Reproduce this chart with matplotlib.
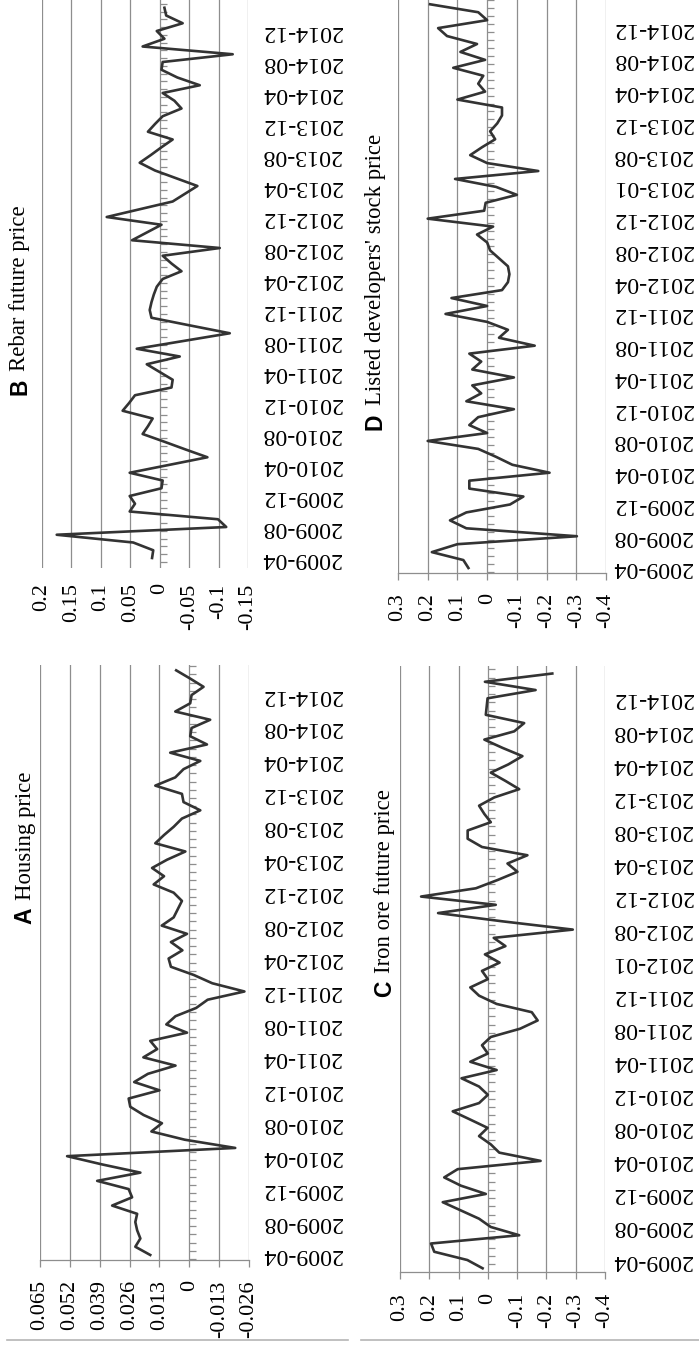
import numpy as np
import matplotlib.pyplot as plt
from matplotlib.lines import Line2D

plt.rcParams['font.family'] = ['Liberation Serif', 'DejaVu Serif']

W, H, DPI = 699, 1347, 100
GRID = '#8e8e8e'
LINE = '#333333'

# monthly series, first value = 2009-04 (C starts one month earlier)
housing = [0.0170, 0.0235, 0.0213, 0.0227, 0.0235, 0.0227, 0.0336, 0.0249, 0.0264, 0.0401,
           0.0213, 0.0380, 0.0532, -0.0200, 0.0020, 0.0165, 0.0119, 0.0199, 0.0257, 0.0264,
           0.0130, 0.0240, 0.0180, 0.0060, 0.0200, 0.0140, 0.0170, 0.0010, 0.0100, 0.0060,
           -0.0030, -0.0080, -0.0240, -0.0100, -0.0020, 0.0080, 0.0090, 0.0030, 0.0080, 0.0010,
           0.0120, 0.0068, 0.0050, 0.0032, 0.0068, 0.0155, 0.0110, 0.0162, 0.0097, 0.0017,
           0.0148, 0.0110, 0.0068, 0.0032, -0.0048, 0.0025, 0.0032, 0.0148, 0.0061, 0.0025,
           -0.0048, 0.0083, -0.0077, -0.0004, -0.0010, -0.0091, 0.0061, -0.0004, -0.0010, -0.0062,
           -0.0004, 0.0057]

rebar = [0.013, 0.011, 0.045, 0.175, -0.113, -0.099, 0.051, 0.042, 0.051, -0.003,
         -0.005, 0.051, -0.015, -0.081, -0.044, -0.008, 0.029, 0.020, 0.012, 0.063,
         0.052, 0.042, -0.020, -0.022, 0.000, 0.022, -0.034, 0.039, -0.040, -0.119,
         -0.052, 0.014, 0.017, 0.014, 0.010, 0.005, -0.005, -0.037, -0.020, -0.005,
         -0.102, 0.047, 0.022, -0.003, 0.090, 0.034, -0.022, -0.043, -0.064, -0.028,
         0.008, 0.034, 0.015, -0.003, -0.022, 0.020, 0.008, -0.005, -0.037, -0.025,
         -0.005, -0.068, -0.030, -0.003, -0.005, -0.124, 0.029, -0.008, 0.005, -0.039,
         -0.011, -0.008]

iron_ore = [0.018, 0.070, 0.183, 0.194, -0.107, -0.010, 0.030, 0.092, 0.154, 0.007,
            0.092, 0.149, 0.103, -0.180, -0.039, -0.010, 0.030, 0.001, 0.060, 0.120,
            0.030, 0.000, 0.030, 0.090, -0.030, 0.060, 0.000, 0.020, -0.010, -0.110,
            -0.170, -0.150, -0.030, 0.030, 0.060, 0.000, 0.020, -0.040, 0.010, -0.060,
            -0.020, -0.290, -0.050, 0.170, -0.027, 0.228, 0.041, -0.033, -0.101, -0.067,
            -0.135, 0.020, 0.069, 0.069, -0.010, 0.012, 0.030, -0.022, -0.107, -0.060,
            -0.010, -0.070, -0.118, -0.050, 0.012, -0.090, -0.124, 0.007, 0.004, 0.001,
            -0.163, 0.010, -0.220]

developers = [0.063, 0.080, 0.186, 0.100, -0.302, 0.070, 0.125, 0.070, -0.077, -0.122,
              0.060, 0.060, -0.210, -0.085, -0.030, 0.030, 0.200, 0.000, 0.060, 0.030,
              -0.090, 0.070, 0.020, 0.050, -0.090, 0.050, 0.020, 0.060, -0.160, -0.040,
              -0.070, 0.000, 0.140, 0.000, 0.120, -0.050, -0.070, -0.075, -0.070, -0.040,
              -0.010, 0.000, 0.034, -0.020, 0.200, 0.010, 0.005, -0.100, -0.030, 0.108,
              -0.172, 0.000, 0.057, 0.017, -0.027, -0.010, -0.034, -0.050, -0.050, 0.100,
              0.007, 0.030, 0.013, 0.114, 0.007, 0.090, 0.034, 0.135, 0.165, 0.000,
              0.030, 0.192]

dates = ['2009-04', '2009-08', '2009-12', '2010-04', '2010-08', '2010-12',
         '2011-04', '2011-08', '2011-12', '2012-04', '2012-08', '2012-12',
         '2013-04', '2013-08', '2013-12', '2014-04', '2014-08', '2014-12']
dates_c = dates[:9] + ['2012-01'] + dates[10:]
dates_d = dates[:12] + ['2013-01'] + dates[13:]

ticks_a = [0.065, 0.052, 0.039, 0.026, 0.013, 0, -0.013, -0.026]
labels_a = ['0.065', '0.052', '0.039', '0.026', '0.013', '0', '-0.013', '-0.026']
ticks_b = [0.2, 0.15, 0.1, 0.05, 0, -0.05, -0.1, -0.15]
labels_b = ['0.2', '0.15', '0.1', '0.05', '0', '-0.05', '-0.1', '-0.15']
ticks_cd = [0.3, 0.2, 0.1, 0, -0.1, -0.2, -0.3, -0.4]
labels_cd = ['0.3', '0.2', '0.1', '0', '-0.1', '-0.2', '-0.3', '-0.4']

fig = plt.figure(figsize=(W / DPI, H / DPI), dpi=DPI)


def panel(box, vals, start, ticks, labels, ylim, dlabels, dpad, vpad, axis_line):
    left, top, right, bottom = box
    ax = fig.add_axes([left / W, 1 - bottom / H, (right - left) / W, (bottom - top) / H])
    ax.set_xlim(ticks[0], ticks[-1])
    ax.set_ylim(*ylim)
    pos = np.arange(start, start + len(vals))
    ax.plot(vals, pos, color=LINE, lw=1.9, solid_joinstyle='round', zorder=3)

    ax.set_xticks(ticks)
    ax.set_xticklabels(labels, rotation=90, fontsize=16)
    ax.grid(axis='x', color=GRID, lw=0.9)
    ax.set_axisbelow(True)
    for s in ['top', 'left', 'right']:
        ax.spines[s].set_visible(False)
    if axis_line:
        ax.spines['bottom'].set_color(GRID)
        ax.spines['bottom'].set_linewidth(0.9)
        ax.tick_params(axis='x', direction='out', length=5, width=0.9, color=GRID, pad=vpad)
    else:
        ax.spines['bottom'].set_visible(False)
        ax.tick_params(axis='x', length=0, pad=vpad)

    # month ticks on the zero line
    tl = 7 / (right - left) * (ticks[0] - ticks[-1])
    cat = np.arange(start - 0.5, start + len(vals) + 0.5)
    cat = cat[(cat > ylim[0]) & (cat < ylim[1])]
    ax.hlines(cat, 0, -tl, color=GRID, lw=0.9)

    ax.yaxis.tick_right()
    ax.set_yticks(np.arange(0, 4 * len(dlabels), 4))
    ax.set_yticklabels(dlabels, rotation=180, fontsize=17.2)
    ax.tick_params(axis='y', length=0, pad=dpad)
    for t in ax.get_yticklabels():
        t.set_va('center')
    return ax


panel((42, 0, 248, 568), rebar, 0, ticks_b, labels_b, (-1.29, 72.0), dates, 10, 11, False)
panel((398, 0, 606, 573), developers, 0, ticks_cd, labels_cd, (-0.63, 71.54), dates_d, 5, 9.5, True)
panel((40, 665, 249, 1260), housing, 0, ticks_a, labels_a, (-0.61, 71.65), dates, 9.5, 9.5, True)
panel((400, 666, 605, 1272), iron_ore, -1, ticks_cd, labels_cd, (-1.45, 71.91), dates_c, 5.5, 10, True)

# rotated panel titles
titles = [('B', 'Rebar future price', 20, 300),
          ('D', "Listed developers' stock price", 375, 282),
          ('A', 'Housing price', 25, 848),
          ('C', 'Iron ore future price', 385, 893)]
fig.canvas.draw()
rend = fig.canvas.get_renderer()
for letter, text, cx, cy in titles:
    t1 = fig.text(cx / W, 0, letter, rotation=90, rotation_mode='anchor', ha='left', va='center',
                  family=['Liberation Sans', 'DejaVu Sans'], fontweight='bold', fontsize=16.5)
    t2 = fig.text(cx / W, 0, text, rotation=90, rotation_mode='anchor', ha='left', va='center',
                  fontsize=16.4)
    h1 = t1.get_window_extent(rend).height
    h2 = t2.get_window_extent(rend).height
    gap = 8
    total = h1 + gap + h2
    ybot = H - cy - total / 2
    t1.set_position((cx / W, ybot / H))
    t2.set_position((cx / W, (ybot + h1 + gap) / H))

# frame remnants at the bottom edge
fig.add_artist(Line2D([7 / W, 348 / W], [1 - 1340 / H] * 2, color='#b5b5b5', lw=1.2))
fig.add_artist(Line2D([361 / W, 1.0], [1 - 1340 / H] * 2, color='#b5b5b5', lw=1.2))

fig.savefig('out.png', dpi=DPI)
